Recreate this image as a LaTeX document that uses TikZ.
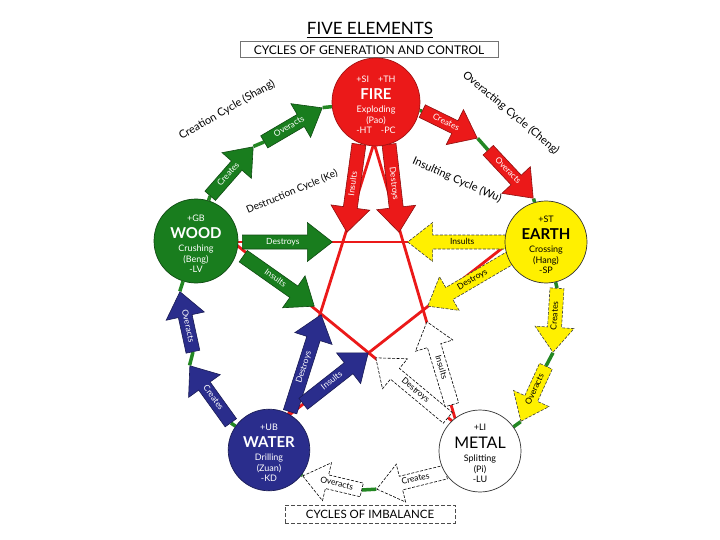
\documentclass[tikz,border=0pt]{standalone}
\usepackage{fontspec}
\setmainfont{Lato}
\usetikzlibrary{shapes.arrows,backgrounds}

\definecolor{grn}{RGB}{25,125,30}
\definecolor{ringgrn}{RGB}{35,135,35}
\definecolor{fred}{RGB}{235,25,25}
\definecolor{yel}{RGB}{255,240,0}
\definecolor{blu}{RGB}{42,45,140}

\newcommand\elemtext[5]{\rule{0pt}{12pt}#1\\[5pt]{\fontsize{15}{15}\selectfont\bfseries #2}\\[3pt]#3\\[0pt]#4\\[0pt]#5}
\newcommand\elemtextR[5]{\rule{0pt}{12pt}#1\\[5pt]{\fontsize{16}{16}\selectfont #2}\\[3pt]#3\\[0pt]#4\\[0pt]#5}

\newcommand\blkarrow[7]{%
  \pgfmathsetmacro\bkAng{atan2(-((#6)-(#4)),(#5)-(#3))}%
  \pgfmathsetmacro\bkLen{veclen((#5)-(#3),(#6)-(#4))}%
  \pgfmathtruncatemacro\bkFlip{abs(\bkAng)>90}%
  \ifnum\bkFlip=1
    \pgfmathsetmacro\bkRot{\bkAng-180}\def\bkSbr{180}%
  \else
    \let\bkRot\bkAng\def\bkSbr{0}%
  \fi
  \node[blk,#2,rotate=\bkRot,shape border rotate=\bkSbr,minimum height=\bkLen pt,anchor=tail] (#1) at (#3,#4) {#7};%
}

\begin{document}
\begin{tikzpicture}[x=1pt,y=-1pt,
  blk/.style={single arrow, single arrow head extend=12.5pt, single arrow tip angle=76,
    inner xsep=3pt, inner ysep=2.8pt, text height=6pt, text depth=1.8pt,
    font=\fontsize{8.5}{8.5}\selectfont, line width=0.6pt},
  gA/.style={fill=grn, draw=grn!60!black, text=white},
  rA/.style={fill=fred, draw=fred!60!black, text=white},
  yA/.style={fill=yel, draw=black!75, dash pattern=on 3pt off 1.5pt, text=black},
  bA/.style={fill=blu, draw=blu!60!black, text=white},
  wA/.style={fill=white, draw=black, dash pattern=on 3pt off 1.5pt, text=black},
  elem/.style={circle, inner sep=0pt, align=center, font=\fontsize{9}{10.5}\selectfont, line width=0.7pt},
  ring/.style={draw=ringgrn, line width=3.5pt},
  starl/.style={draw=fred, line width=2.8pt},
  lbl/.style={font=\fontsize{11}{12}\selectfont, inner sep=0pt}
]
\begin{pgfonlayer}{background}
\fill[white] (0,0) rectangle (720,540);
\end{pgfonlayer}
\useasboundingbox (0,0) rectangle (720,540);

% titles
\node[font=\fontsize{17}{17}\selectfont, inner sep=0pt] (title) at (370,28) {FIVE ELEMENTS};
\draw[line width=0.9pt] ([yshift=-3pt]title.south west) -- ([yshift=-3pt]title.south east);
\node[draw=black!55, line width=1pt, minimum width=258pt, minimum height=16pt, inner sep=0pt,
  font=\fontsize{12}{12}\selectfont] (sub) at (369,50) {CYCLES OF GENERATION AND CONTROL};
\node[draw=black!70, dash pattern=on 4pt off 2pt, line width=0.8pt, minimum width=170pt, minimum height=18pt,
  inner sep=0pt, font=\fontsize{11.5}{12}\selectfont] (imb) at (370,514) {CYCLES OF IMBALANCE};

% cycle labels
\node[lbl, rotate=30] (lshang) at (227,110) {Creation Cycle (Shang)};
\node[lbl, rotate=-40] (lcheng) at (511,113) {Overacting Cycle (Cheng)};
\node[lbl, rotate=23, font=\fontsize{10}{11}\selectfont] (lke) at (292,192) {Destruction Cycle (Ke)};
\node[lbl, rotate=-24] (lwu) at (457,180) {Insulting Cycle (Wu)};

% star vertices
\coordinate (sF) at (374,143);
\coordinate (sWd) at (233,242);
\coordinate (sE) at (510,242);
\coordinate (sWa) at (288,416);
\coordinate (sM) at (457,425);

% outer arrows
\blkarrow{a1}{gA}{210}{196}{253}{147}{Creates}
\blkarrow{a2}{gA}{264}{142}{322}{108}{Overacts}
\blkarrow{a3}{rA}{422}{111}{477}{138}{Creates}
\blkarrow{a4}{rA}{488}{150}{533}{198}{Overacts}
\blkarrow{a5}{yA}{557}{288}{553}{352}{Creates}
\blkarrow{a6}{yA}{546}{366}{521}{421}{Overacts}
\blkarrow{a7}{wA}{446}{472}{377}{489}{Creates}
\blkarrow{a8}{wA}{362}{490}{303}{476}{Overacts}
\blkarrow{a9}{bA}{231}{423}{190}{366}{Creates}
\blkarrow{a10}{bA}{193}{352}{180}{292}{Overacts}

% inner arrows
\blkarrow{b1}{rA}{359}{144}{347}{232}{Insults}
\blkarrow{b2}{rA}{389}{144}{399}{232}{Destroys}
\blkarrow{b3}{gA}{242}{242}{332}{242}{Destroys}
\blkarrow{b4}{gA}{243}{256}{314}{306}{Insults}
\blkarrow{b5}{yA}{508}{242}{408}{242}{Insults}
\blkarrow{b6}{yA}{510}{258}{428}{306}{Destroys}
\blkarrow{b7}{bA}{290}{412}{321}{315}{Destroys}
\blkarrow{b8}{bA}{303}{404}{368}{353}{Insults}
\blkarrow{b9}{wA}{448}{418}{376}{358}{Destroys}
\blkarrow{b10}{wA}{452}{405}{427}{322}{Insults}

% element circles
\node[elem, minimum size=88pt, fill=fred, draw=fred!70!black, text=white] (fire) at (376,102)
  {\elemtext{+SI\quad +TH}{FIRE}{Exploding}{(Pao)}{-HT\quad -PC}};
\node[elem, minimum size=84pt, fill=grn, draw=grn!60!black, text=white] (wood) at (196,241)
  {\elemtext{+GB}{WOOD}{Crushing}{(Beng)}{-LV}};
\node[elem, minimum size=82pt, fill=yel, draw=black!80, text=black] (earth) at (546,242)
  {\elemtext{+ST}{EARTH}{Crossing}{(Hang)}{-SP}};
\node[elem, minimum size=80pt, fill=blu, draw=blu!60!black, text=white] (water) at (269,450)
  {\elemtext{+UB}{WATER}{Drilling}{(Zuan)}{-KD}};
\node[elem, minimum size=80pt, fill=white, draw=black!80, text=black] (metal) at (480,451)
  {\elemtextR{+LI}{METAL}{Splitting}{(Pi)}{-LU}};

\begin{pgfonlayer}{background}
% pentagram
\draw[starl] (sF) -- (sWa);
\draw[starl] (sF) -- (sM);
\draw[starl] (sWd) -- (sE);
\draw[starl] (sWd) -- (sM);
\draw[starl] (sE) -- (sWa);
% outer ring
\draw[ring] (wood) -- (a1.tail);
\draw[ring] (a1.tip) -- (a2.tail);
\draw[ring] (a2.tip) -- (fire);
\draw[ring] (fire) -- (a3.tail);
\draw[ring] (a3.tip) -- (a4.tail);
\draw[ring] (a4.tip) -- (earth);
\draw[ring] (earth) -- (a5.tail);
\draw[ring] (a5.tip) -- (a6.tail);
\draw[ring] (a6.tip) -- (metal);
\draw[ring] (metal) -- (a7.tail);
\draw[ring] (a7.tip) -- (a8.tail);
\draw[ring] (a8.tip) -- (water);
\draw[ring] (water) -- (a9.tail);
\draw[ring] (a9.tip) -- (a10.tail);
\draw[ring] (a10.tip) -- (wood);
\end{pgfonlayer}
\end{tikzpicture}
\end{document}
